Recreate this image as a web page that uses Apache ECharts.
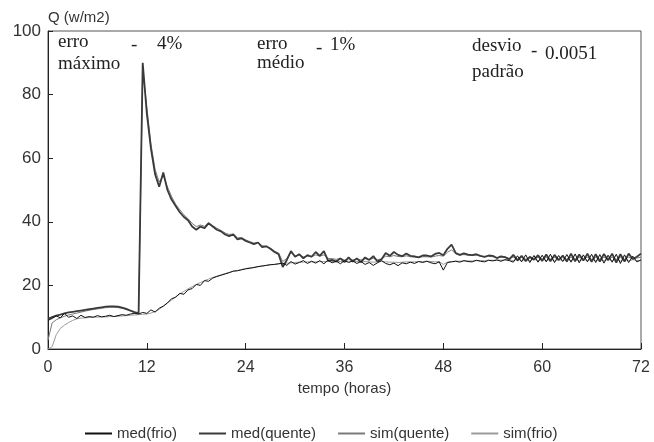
<!DOCTYPE html>
<html>
<head>
    <meta charset="utf-8">
    <title>Q (w/m2) x tempo</title>
    <script src="https://cdn.jsdelivr.net/npm/echarts@6/dist/echarts.min.js"></script>
    <style>
        html, body { margin: 0; padding: 0; background: #fff; }
        #chart { width: 654px; height: 442px; }
    </style>
</head>
<body>
    <div id="chart"></div>
    <script>
        // amostras a cada 0.5 h, de 0 a 72 h
        const passo = 0.5;
        const xTicks = [0, 12, 24, 36, 48, 60, 72];
        const yTicks = [0, 20, 40, 60, 80, 100];
        const nomes = ['med(frio)', 'med(quente)', 'sim(quente)', 'sim(frio)'];

        const medQuente = [
            9.5, 10.0, 10.5, 10.8, 11.2, 11.5, 11.7, 11.9, 12.1, 12.3,
            12.5, 12.7, 12.9, 13.1, 13.3, 13.4, 13.4, 13.3, 13.0, 12.6,
            12.1, 11.6, 11.3, 90.0, 74.0, 63.0, 55.0, 51.0, 55.5, 50.0,
            47.0, 45.0, 43.0, 41.5, 40.5, 38.5, 37.5, 38.5, 38.0, 39.5,
            38.5, 37.5, 37.0, 36.0, 35.5, 36.0, 34.5, 34.8, 34.0, 33.5,
            33.0, 33.5, 32.0, 32.3, 31.5, 30.5, 29.8, 25.8, 28.0, 30.8,
            29.0, 29.8, 28.5, 29.5, 29.0, 30.5, 29.3, 30.8, 27.8, 28.0,
            27.5, 28.5, 27.3, 28.8, 27.5, 28.5, 27.3, 28.8, 28.0, 29.2,
            27.5, 28.2, 30.2, 29.3, 30.5, 29.6, 29.2, 30.0, 29.3, 29.1,
            28.8, 29.4, 29.4, 29.1, 29.9, 30.2, 29.5, 31.5, 32.8, 30.2,
            29.6, 30.1, 29.7, 29.5, 29.8, 29.3, 29.0, 29.4, 29.3, 28.6,
            29.1, 28.9, 28.2, 29.6, 27.8, 29.3, 27.6, 29.0, 28.1, 29.5,
            27.7, 29.7, 27.6, 29.6, 27.9, 29.4, 27.5, 30.0, 27.6, 29.7,
            27.8, 30.0, 27.4, 29.8, 27.5, 29.9, 27.9, 30.0, 27.2, 29.8,
            27.5, 30.0, 28.3, 29.0, 30.0
        ];

        const simQuente = [
            2.8, 8.2, 9.2, 9.8, 10.3, 10.7, 11.0, 11.3, 11.6, 11.9,
            12.2, 12.4, 12.6, 12.8, 13.0, 13.1, 13.1, 13.0, 12.8, 12.4,
            11.9, 11.5, 11.2, 88.0, 76.0, 64.5, 56.5, 52.5, 54.5, 51.0,
            48.0, 45.5, 43.8, 42.2, 41.0, 39.5, 38.5, 39.0, 38.6, 39.8,
            38.8, 38.0, 37.3, 36.5, 36.0, 36.2, 35.0, 35.0, 34.3, 33.8,
            33.3, 33.5, 32.5, 32.3, 31.7, 30.8, 30.2, 27.5, 28.5, 30.3,
            29.3, 29.5, 29.0, 29.2, 29.0, 29.6, 29.2, 29.6, 28.5, 28.4,
            28.2, 28.5, 28.0, 28.4, 28.0, 28.3, 28.0, 28.4, 28.1, 28.5,
            28.1, 28.3, 29.2, 29.0, 29.4, 29.1, 29.0, 29.3, 29.0, 28.9,
            28.8, 29.0, 29.0, 28.9, 29.2, 29.4, 29.2, 30.4, 31.2, 29.9,
            29.5, 29.7, 29.5, 29.4, 29.5, 29.2, 29.0, 29.1, 29.0, 28.7,
            28.9, 28.8, 28.5, 28.9, 28.3, 28.8, 28.2, 28.7, 28.3, 28.8,
            28.2, 28.8, 28.2, 28.8, 28.3, 28.7, 28.2, 28.9, 28.2, 28.8,
            28.3, 28.9, 28.1, 28.8, 28.2, 28.9, 28.3, 28.9, 28.1, 28.8,
            28.2, 28.9, 28.4, 28.6, 28.9
        ];

        const medFrio = [
            9.0, 9.6, 10.4, 9.8, 11.2, 10.0, 10.4, 9.6, 10.6, 9.9,
            10.2, 10.0, 10.5, 10.1, 10.3, 10.6, 10.2, 10.5, 10.8, 10.6,
            11.0, 11.2, 11.0, 11.5, 11.2, 12.3, 11.6, 12.8, 13.5, 14.5,
            15.8, 16.3, 17.5, 17.2, 18.6, 19.0, 20.3, 20.0, 21.5, 21.3,
            22.3, 22.8, 23.2, 23.6, 24.0, 24.5, 24.6, 24.9, 25.2, 25.4,
            25.6, 25.9, 26.1, 26.3, 26.5, 26.6, 26.8, 27.0, 26.3, 27.5,
            26.7, 27.2, 27.8, 26.9, 27.6, 27.0, 27.8, 26.8, 27.9, 27.1,
            27.6, 26.8, 27.8, 27.2, 27.7, 26.9, 27.5, 26.6, 27.2, 26.3,
            27.1, 27.8, 26.9, 26.5, 27.0, 26.2, 27.1, 26.8, 27.3, 26.9,
            27.5, 27.2, 27.6, 27.1, 26.8, 27.4, 24.8, 27.2, 27.4, 27.6,
            27.3, 27.8, 27.5, 27.4, 27.9, 27.6, 27.4, 27.9, 27.7, 28.0,
            27.6, 28.1, 27.8, 27.3, 29.3, 27.4, 29.6, 27.2, 29.4, 27.3,
            29.5, 27.4, 29.8, 27.2, 29.4, 27.5, 29.7, 27.3, 29.9, 27.1,
            29.6, 27.4, 29.8, 27.2, 29.7, 27.0, 29.5, 27.3, 29.8, 26.9,
            29.6, 27.2, 29.2, 27.4, 28.0
        ];

        const simFrio = [
            0.0, 0.7, 4.5, 6.5, 7.5, 8.3, 9.0, 9.5, 9.7, 9.8,
            9.9, 10.0, 10.0, 10.1, 10.1, 10.2, 10.2, 10.3, 10.4, 10.5,
            10.6, 10.7, 10.8, 10.9, 11.0, 11.3, 11.8, 12.5, 13.4, 14.4,
            15.4, 16.4, 17.3, 18.1, 18.9, 19.6, 20.3, 20.9, 21.5, 22.0,
            22.5, 22.9, 23.3, 23.7, 24.1, 24.4, 24.7, 25.0, 25.3, 25.5,
            25.7, 25.9, 26.1, 26.3, 26.5, 26.6, 26.8, 26.9, 27.0, 27.1,
            27.2, 27.3, 27.3, 27.4, 27.4, 27.4, 27.5, 27.5, 27.5, 27.5,
            27.6, 27.5, 27.6, 27.6, 27.6, 27.5, 27.6, 27.5, 27.4, 27.3,
            27.4, 27.5, 27.4, 27.3, 27.3, 27.2, 27.3, 27.4, 27.4, 27.4,
            27.5, 27.5, 27.6, 27.5, 27.4, 27.5, 26.6, 27.3, 27.5, 27.6,
            27.6, 27.7, 27.7, 27.7, 27.8, 27.8, 27.8, 27.9, 27.9, 28.0,
            27.9, 28.0, 28.0, 27.8, 28.2, 27.8, 28.3, 27.8, 28.2, 27.8,
            28.3, 27.8, 28.3, 27.7, 28.2, 27.8, 28.3, 27.8, 28.3, 27.7,
            28.2, 27.8, 28.3, 27.7, 28.2, 27.7, 28.2, 27.8, 28.3, 27.6,
            28.2, 27.7, 28.1, 27.8, 27.9
        ];

        const tempo = medFrio.map((v, i) => i * passo);
        const pares = arr => arr.map((v, i) => [tempo[i], v]);

        const sans = 'Liberation Sans, Arial, sans-serif';
        const serif = 'Liberation Serif, Times New Roman, serif';

        function linha(nome, dados, cor, largura, z) {
            return {
                name: nome,
                type: 'line',
                data: pares(dados),
                symbol: 'none',
                z: z,
                lineStyle: { color: cor, width: largura },
                itemStyle: { color: cor }
            };
        }

        // textos de erro no canto superior
        function nota(x, y, texto) {
            return {
                type: 'text', left: x, top: y,
                style: { text: texto, font: '19px ' + serif, fill: '#222' }
            };
        }

        const chart = echarts.init(document.getElementById('chart'));
        chart.setOption({
            animation: false,
            backgroundColor: '#fff',
            grid: {
                left: 48, right: 13, top: 31, bottom: 93,
                show: true, borderColor: '#555', borderWidth: 1
            },
            xAxis: {
                type: 'value',
                min: xTicks[0], max: xTicks[xTicks.length - 1], interval: 12,
                name: 'tempo (horas)',
                nameLocation: 'middle',
                nameGap: 31,
                nameTextStyle: { fontFamily: sans, fontSize: 15, color: '#333' },
                axisLine: { lineStyle: { color: '#222', width: 1 } },
                axisTick: { inside: true, length: 6, lineStyle: { color: '#222' } },
                axisLabel: { fontFamily: sans, fontSize: 16, color: '#333', margin: 11 },
                splitLine: { show: false }
            },
            yAxis: {
                type: 'value',
                min: yTicks[0], max: yTicks[yTicks.length - 1], interval: 20,
                name: 'Q (w/m2)',
                nameLocation: 'end',
                nameGap: 6,
                nameTextStyle: { fontFamily: sans, fontSize: 15, color: '#333', align: 'left' },
                axisLine: { show: true, lineStyle: { color: '#222', width: 1 } },
                axisTick: { show: true, inside: true, length: 5, lineStyle: { color: '#222' } },
                axisLabel: { fontFamily: sans, fontSize: 17, color: '#333', margin: 7 },
                splitLine: { show: false }
            },
            legend: {
                data: [
                    { name: nomes[0], icon: 'rect', itemStyle: { color: '#111' } },
                    { name: nomes[1], icon: 'rect', itemStyle: { color: '#3a3a3a' } },
                    { name: nomes[2], icon: 'rect', itemStyle: { color: '#7a7a7a' } },
                    { name: nomes[3], icon: 'rect', itemStyle: { color: '#9a9a9a' } }
                ],
                left: 80,
                top: 421,
                itemWidth: 27,
                itemHeight: 2,
                itemGap: 22,
                textStyle: { fontFamily: sans, fontSize: 15, color: '#333' }
            },
            series: [
                linha(nomes[0], medFrio, '#111', 1, 4),
                linha(nomes[1], medQuente, '#3a3a3a', 1.8, 3),
                linha(nomes[2], simQuente, '#7a7a7a', 1, 2),
                linha(nomes[3], simFrio, '#9a9a9a', 1, 1)
            ],
            graphic: [
                nota(58, 33, 'erro'),
                nota(58, 55, 'máximo'),
                nota(131, 36, '-'),
                nota(157, 35, '4%'),
                nota(257, 35, 'erro'),
                nota(257, 54, 'médio'),
                nota(316, 39, '-'),
                nota(330, 36, '1%'),
                nota(472, 37, 'desvio'),
                nota(472, 63, 'padrão'),
                nota(531, 42, '-'),
                nota(545, 45, '0.0051')
            ]
        });
    </script>
</body>
</html>
